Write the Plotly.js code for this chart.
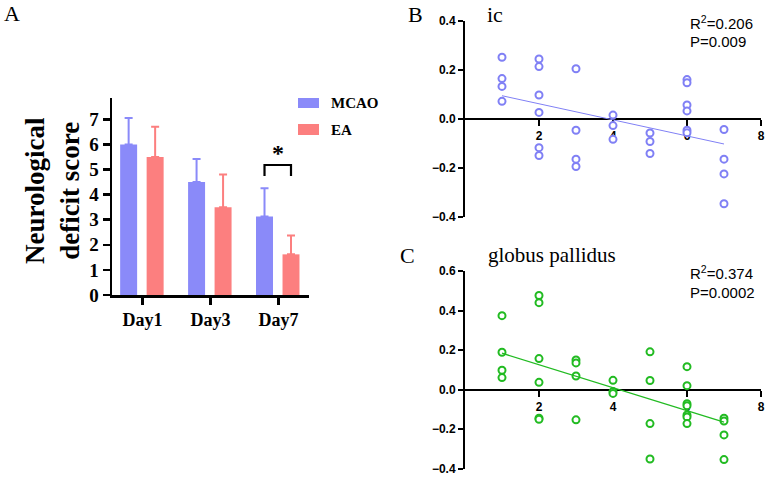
<!DOCTYPE html>
<html>
<head>
<meta charset="utf-8">
<script src="https://cdn.plot.ly/plotly-3.0.1.min.js"></script>
<style>html,body{margin:0;padding:0;background:#fff;}#chart{width:767px;height:477px;}</style>
</head>
<body>
<div id="chart"></div>
<script>
// Panel A data
const days = ["Day1", "Day3", "Day7"];
const seriesNames = ["MCAO", "EA"];
const mcaoMean = [6.0, 4.5, 3.13];
const mcaoErr = [1.05, 0.92, 1.12];
const eaMean = [5.5, 3.5, 1.62];
const eaErr = [1.2, 1.3, 0.75];

// Panel B (ic) data
const icX = [1,1,1,1, 2,2,2,2,2,2, 3,3,3,3, 4,4,4, 5,5,5, 6,6,6,6,6,6, 7,7,7,7];
const icY = [0.252,0.165,0.133,0.072, 0.245,0.214,0.098,0.027,-0.117,-0.149,
             0.205,-0.046,-0.164,-0.194, 0.016,-0.027,-0.083, -0.057,-0.092,-0.141,
             0.161,0.148,0.057,0.033,-0.046,-0.056, -0.043,-0.164,-0.224,-0.346];
const icFitX = [1, 7];
const icFitY = [0.095, -0.102];
const icStats = ["R<sup>2</sup>=0.206", "P=0.009"];

// Panel C (globus pallidus) data
const gpX = [1,1,1,1, 2,2,2,2,2,2, 3,3,3,3, 4,4,4, 5,5,5,5, 6,6,6,6,6,6,6, 7,7,7,7];
const gpY = [0.374,0.189,0.098,0.061, 0.476,0.440,0.157,0.037,-0.145,-0.150,
             0.150,0.135,0.069,-0.153, 0.047,-0.010,-0.019, 0.191,0.046,-0.172,-0.351,
             0.116,0.020,-0.071,-0.081,-0.128,-0.138,-0.172, -0.145,-0.159,-0.229,-0.354];
const gpFitX = [1, 7];
const gpFitY = [0.184, -0.164];
const gpStats = ["R<sup>2</sup>=0.374", "P=0.0002"];

const blue = "#8a8af9";
const red = "#fc7f7f";
const ptBlue = "#8080f5";
const ptGreen = "#22bb22";
const dayIdx = days.map((d, i) => i);

const traces = [
  {type: "bar", x: dayIdx, y: mcaoMean, name: seriesNames[0], offset: -0.33, width: 0.25,
   marker: {color: blue}, xaxis: "x", yaxis: "y", showlegend: false,
   error_y: {type: "data", symmetric: false, array: mcaoErr, arrayminus: mcaoErr.map(() => 0),
             color: blue, thickness: 2, width: 4}},
  {type: "bar", x: dayIdx, y: eaMean, name: seriesNames[1], offset: 0.06, width: 0.25,
   marker: {color: red}, xaxis: "x", yaxis: "y", showlegend: false,
   error_y: {type: "data", symmetric: false, array: eaErr, arrayminus: eaErr.map(() => 0),
             color: red, thickness: 2, width: 4}},
  {type: "scatter", mode: "markers", x: icX, y: icY, xaxis: "x2", yaxis: "y2", showlegend: false,
   marker: {symbol: "circle", size: 7, color: "#ffffff", line: {color: ptBlue, width: 2}}},
  {type: "scatter", mode: "lines", x: icFitX, y: icFitY, xaxis: "x2", yaxis: "y2", showlegend: false,
   line: {color: ptBlue, width: 1}},
  {type: "scatter", mode: "markers", x: gpX, y: gpY, xaxis: "x3", yaxis: "y3", showlegend: false,
   marker: {symbol: "circle", size: 7, color: "#ffffff", line: {color: ptGreen, width: 2}}},
  {type: "scatter", mode: "lines", x: gpFitX, y: gpFitY, xaxis: "x3", yaxis: "y3", showlegend: false,
   line: {color: ptGreen, width: 1.3}}
];

const serifFam = "Liberation Serif, Times New Roman, serif";
const sansFam = "Liberation Sans, Arial, sans-serif";
const arialBold = {family: sansFam, size: 12, color: "#000", weight: "bold"};

const H = 477, W = 767;
const py = v => 1 - v / H;
const px = v => v / W;

const layout = {
  width: W, height: H,
  margin: {l: 0, r: 0, t: 0, b: 0},
  paper_bgcolor: "#fff", plot_bgcolor: "rgba(0,0,0,0)",
  showlegend: false,
  xaxis: {domain: [px(112), px(309)], range: [-0.45, 2.45], anchor: "y",
          tickmode: "array", tickvals: dayIdx, ticktext: days,
          showline: true, linecolor: "#000", linewidth: 2.5, ticks: "outside", ticklen: 7, tickwidth: 2.5,
          tickcolor: "#000", showgrid: false, zeroline: false,
          tickfont: {family: serifFam, size: 18, color: "#000", weight: "bold"}},
  yaxis: {domain: [py(295), py(98)], range: [0, 7.85], anchor: "x",
          tickvals: [0,1,2,3,4,5,6,7], showline: true, linecolor: "#000", linewidth: 2.5,
          ticks: "outside", ticklen: 7, tickwidth: 2.5, tickcolor: "#000",
          showgrid: false, zeroline: false,
          tickfont: {family: serifFam, size: 19, color: "#000", weight: "bold"}},
  xaxis2: {domain: [px(465), px(761)], range: [0, 8], anchor: "free", position: py(119),
           tickvals: [2,4,6,8], showline: true, linecolor: "#000", linewidth: 2,
           ticks: "outside", ticklen: 6, tickwidth: 2, tickcolor: "#000", showgrid: false, zeroline: false,
           tickfont: arialBold, layer: "below traces"},
  yaxis2: {domain: [py(217), py(21)], range: [-0.4, 0.4], anchor: "x2",
           tickvals: [-0.4,-0.2,0,0.2,0.4], tickformat: ".1f", showline: true, linecolor: "#000", linewidth: 2,
           ticks: "outside", ticklen: 5, tickwidth: 2, tickcolor: "#000", showgrid: false, zeroline: false,
           tickfont: arialBold, layer: "below traces"},
  xaxis3: {domain: [px(465), px(761)], range: [0, 8], anchor: "free", position: py(389.7),
           tickvals: [2,4,6,8], showline: true, linecolor: "#000", linewidth: 2,
           ticks: "outside", ticklen: 6, tickwidth: 2, tickcolor: "#000", showgrid: false, zeroline: false,
           tickfont: arialBold, layer: "below traces"},
  yaxis3: {domain: [py(468.7), py(271)], range: [-0.4, 0.6], anchor: "x3",
           tickvals: [-0.4,-0.2,0,0.2,0.4,0.6], tickformat: ".1f", showline: true, linecolor: "#000", linewidth: 2,
           ticks: "outside", ticklen: 5, tickwidth: 2, tickcolor: "#000", showgrid: false, zeroline: false,
           tickfont: arialBold, layer: "below traces"},
  shapes: [
    {type: "rect", xref: "paper", yref: "paper", x0: px(298), x1: px(319), y0: py(108), y1: py(98),
     fillcolor: blue, line: {width: 0}},
    {type: "rect", xref: "paper", yref: "paper", x0: px(298), x1: px(319), y0: py(135), y1: py(124),
     fillcolor: red, line: {width: 0}},
    {type: "path", xref: "x", yref: "y", path: "M 1.795,4.74 L 1.795,5.18 L 2.185,5.18 L 2.185,4.74",
     line: {color: "#000", width: 2.2}}
  ],
  annotations: [
    {text: "A", xref: "paper", yref: "paper", x: px(2), y: py(14), xanchor: "left", yanchor: "middle",
     showarrow: false, font: {family: serifFam, size: 22, color: "#000"}},
    {text: "<b>Neurological<br>deficit score</b>", xref: "paper", yref: "paper", x: px(52), y: py(191),
     xanchor: "center", yanchor: "middle", textangle: -90, showarrow: false,
     font: {family: serifFam, size: 27, color: "#000"}},
    {text: "<b>" + seriesNames[0] + "</b>", xref: "paper", yref: "paper", x: px(329), y: py(103),
     xanchor: "left", yanchor: "middle", showarrow: false, font: {family: serifFam, size: 15, color: "#000"}},
    {text: "<b>" + seriesNames[1] + "</b>", xref: "paper", yref: "paper", x: px(329), y: py(130),
     xanchor: "left", yanchor: "middle", showarrow: false, font: {family: serifFam, size: 15, color: "#000"}},
    {text: "<b>*</b>", xref: "x", yref: "paper", x: 1.99, y: py(153), xanchor: "center", yanchor: "middle",
     showarrow: false, font: {family: serifFam, size: 24, color: "#000"}},
    {text: "B", xref: "paper", yref: "paper", x: px(415), y: py(15), xanchor: "center", yanchor: "middle",
     showarrow: false, font: {family: serifFam, size: 22, color: "#000"}},
    {text: "ic", xref: "paper", yref: "paper", x: px(495), y: py(15), xanchor: "center", yanchor: "middle",
     showarrow: false, font: {family: serifFam, size: 22, color: "#000"}},
    {text: icStats[0], xref: "paper", yref: "paper", x: px(688), y: py(22), xanchor: "left", yanchor: "middle",
     showarrow: false, font: {family: sansFam, size: 15, color: "#000"}},
    {text: icStats[1], xref: "paper", yref: "paper", x: px(688), y: py(41), xanchor: "left", yanchor: "middle",
     showarrow: false, font: {family: sansFam, size: 15, color: "#000"}},
    {text: "C", xref: "paper", yref: "paper", x: px(407), y: py(255), xanchor: "center", yanchor: "middle",
     showarrow: false, font: {family: serifFam, size: 22, color: "#000"}},
    {text: "globus pallidus", xref: "paper", yref: "paper", x: px(552), y: py(255), xanchor: "center", yanchor: "middle",
     showarrow: false, font: {family: serifFam, size: 21, color: "#000"}},
    {text: gpStats[0], xref: "paper", yref: "paper", x: px(688), y: py(272), xanchor: "left", yanchor: "middle",
     showarrow: false, font: {family: sansFam, size: 15, color: "#000"}},
    {text: gpStats[1], xref: "paper", yref: "paper", x: px(688), y: py(292), xanchor: "left", yanchor: "middle",
     showarrow: false, font: {family: sansFam, size: 15, color: "#000"}}
  ]
};

Plotly.newPlot("chart", traces, layout, {displayModeBar: false, staticPlot: true});
</script>
</body>
</html>
